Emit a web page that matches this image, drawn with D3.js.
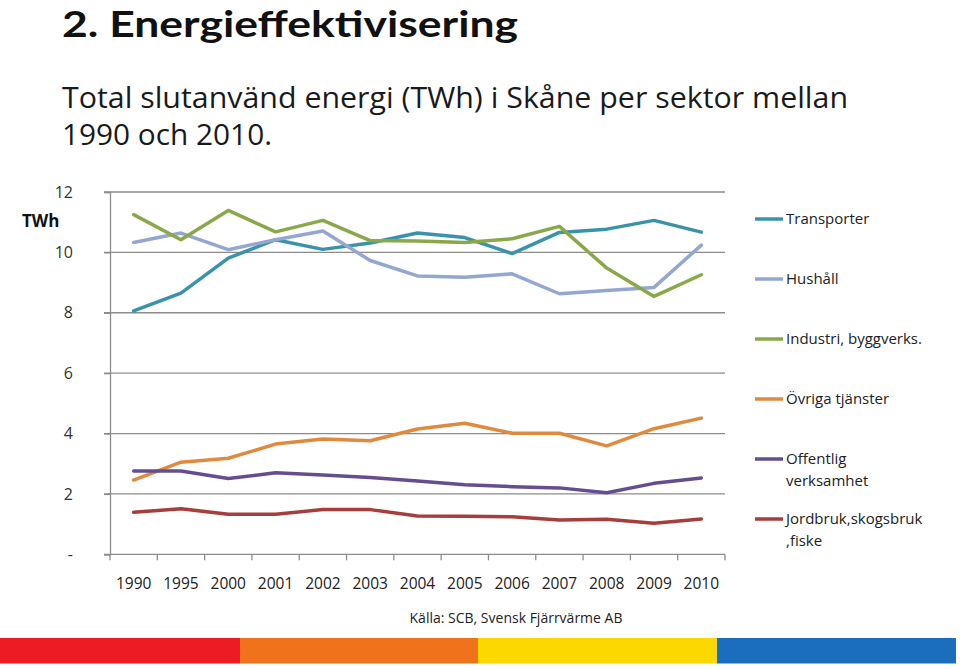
<!DOCTYPE html>
<html><head><meta charset="utf-8">
<script src="https://cdn.jsdelivr.net/npm/d3@7"></script>
<style>html,body{margin:0;padding:0;background:#fff;}svg{display:block;font-family:"Open Sans","Noto Sans",sans-serif;}</style>
</head><body>
<svg id="c" width="960" height="669"></svg>
<script>
const years = ["1990","1995","2000","2001","2002","2003","2004","2005","2006","2007","2008","2009","2010"];
const seriesNames = ["Transporter","Hushåll","Industri, byggverks.","Övriga tjänster","Offentlig verksamhet","Jordbruk,skogsbruk ,fiske"];
const legendLines = [["Transporter"],["Hushåll"],["Industri, byggverks."],["Övriga tjänster"],["Offentlig","verksamhet"],["Jordbruk,skogsbruk",",fiske"]];
const transporter = [8.06,8.65,9.81,10.42,10.10,10.31,10.64,10.49,9.96,10.66,10.77,11.06,10.67];
const hushall     = [10.33,10.64,10.09,10.42,10.71,9.73,9.22,9.18,9.29,8.63,8.74,8.84,10.24];
const industri    = [11.25,10.42,11.39,10.68,11.06,10.39,10.38,10.33,10.45,10.86,9.48,8.54,9.26];
const ovriga      = [2.46,3.05,3.18,3.65,3.82,3.76,4.15,4.34,4.01,4.01,3.59,4.16,4.51];
const offentlig   = [2.76,2.76,2.51,2.70,2.63,2.54,2.43,2.30,2.24,2.20,2.04,2.35,2.53];
const jordbruk    = [1.39,1.51,1.33,1.33,1.48,1.48,1.27,1.26,1.24,1.14,1.16,1.03,1.17];
const yTicks = [0,2,4,6,8,10,12];
const colors = ["#3A93AB","#93A7D1","#8AA84A","#DE8A3F","#654E8F","#A53E3D"];
const allSeries = [transporter,hushall,industri,ovriga,offentlig,jordbruk];
const stripeColors = ["#ED1C24","#F0721A","#FDD800","#1B6EBE"];

const svg = d3.select("#c");

// Titles
svg.append("text").attr("x",62).attr("y",37).attr("font-size",37).attr("font-weight","bold")
  .attr("font-family","Lato, 'Open Sans', sans-serif")
  .attr("fill","#111").attr("textLength",456).attr("lengthAdjust","spacingAndGlyphs").text("2. Energieffektivisering");
svg.append("text").attr("x",62).attr("y",108).attr("font-size",30).attr("fill","#1a1a1a")
  .attr("textLength",786).attr("lengthAdjust","spacingAndGlyphs").text("Total slutanvänd energi (TWh) i Skåne per sektor mellan");
svg.append("text").attr("x",62).attr("y",145).attr("font-size",30).attr("fill","#1a1a1a")
  .attr("textLength",210).attr("lengthAdjust","spacingAndGlyphs").text("1990 och 2010.");

const x = d3.scaleBand().domain(years).range([110,725]);
const y = d3.scaleLinear().domain([0,12]).range([554.3,192]);
const gridColor = "#8c8c8c";

// gridlines
svg.append("g").selectAll("line").data(yTicks.filter(d=>d>0)).join("line")
  .attr("x1",104).attr("x2",725).attr("y1",d=>y(d)).attr("y2",d=>y(d))
  .attr("stroke",gridColor).attr("stroke-width",1.3);

// y axis
const yAxis = d3.axisLeft(y).tickValues(yTicks).tickSize(6).tickFormat(d=>d===0?"-":d);
const gy = svg.append("g").attr("transform","translate(110,0)").call(yAxis);
gy.select(".domain").attr("stroke",gridColor).attr("stroke-width",1.3);
gy.selectAll(".tick line").attr("stroke",gridColor).attr("stroke-width",1.3);
gy.selectAll(".tick text").attr("x",-37).attr("font-size",16).attr("fill","#333")
  .attr("font-family","'Open Sans',sans-serif");

svg.append("text").attr("x",22).attr("y",227).attr("font-size",17).attr("font-weight","bold").attr("fill","#111").text("TWh");

// x axis
const gx = svg.append("g").attr("transform",`translate(0,${y(0)})`);
gx.append("line").attr("x1",104).attr("x2",725).attr("stroke",gridColor).attr("stroke-width",1.3);
const bounds = years.map(d=>x(d)).concat([x.range()[1]]);
gx.selectAll("line.t").data(bounds).join("line").attr("class","t")
  .attr("x1",d=>d).attr("x2",d=>d).attr("y1",0).attr("y2",6)
  .attr("stroke",gridColor).attr("stroke-width",1.3);
gx.selectAll("text").data(years).join("text")
  .attr("x",d=>x(d)+x.bandwidth()/2).attr("y",35).attr("text-anchor","middle")
  .attr("font-size",15.5).attr("fill","#222").text(d=>d);

// lines
const line = d3.line().x((d,i)=>x(years[i])+x.bandwidth()/2).y(d=>y(d));
svg.append("g").selectAll("path").data(allSeries).join("path")
  .attr("d",d=>line(d)).attr("fill","none")
  .attr("stroke",(d,i)=>colors[i]).attr("stroke-width",3.5)
  .attr("stroke-linejoin","round").attr("stroke-linecap","round");

// legend
const lg = svg.append("g").selectAll("g").data(seriesNames).join("g")
  .attr("transform",(d,i)=>`translate(755,${219 + i*60})`);
lg.append("line").attr("x1",0).attr("x2",28).attr("y1",0).attr("y2",0)
  .attr("stroke",(d,i)=>colors[i]).attr("stroke-width",3.5);
lg.each(function(d,i){
  const t = d3.select(this).append("text").attr("x",31).attr("y",5).attr("font-size",15).attr("fill","#222");
  legendLines[i].forEach((s,j)=>t.append("tspan").attr("x",31).attr("dy",j===0?0:22).text(s));
});

// source
svg.append("text").attr("x",516).attr("y",623).attr("text-anchor","middle").attr("font-size",14)
  .attr("fill","#222").text("Källa: SCB, Svensk Fjärrvärme AB");

// stripe
const stripeX = [0,240,478,717,956];
svg.append("g").selectAll("rect").data(stripeColors).join("rect")
  .attr("x",(d,i)=>stripeX[i]).attr("width",(d,i)=>stripeX[i+1]-stripeX[i])
  .attr("y",638).attr("height",25.5).attr("fill",d=>d);
</script>
</body></html>
